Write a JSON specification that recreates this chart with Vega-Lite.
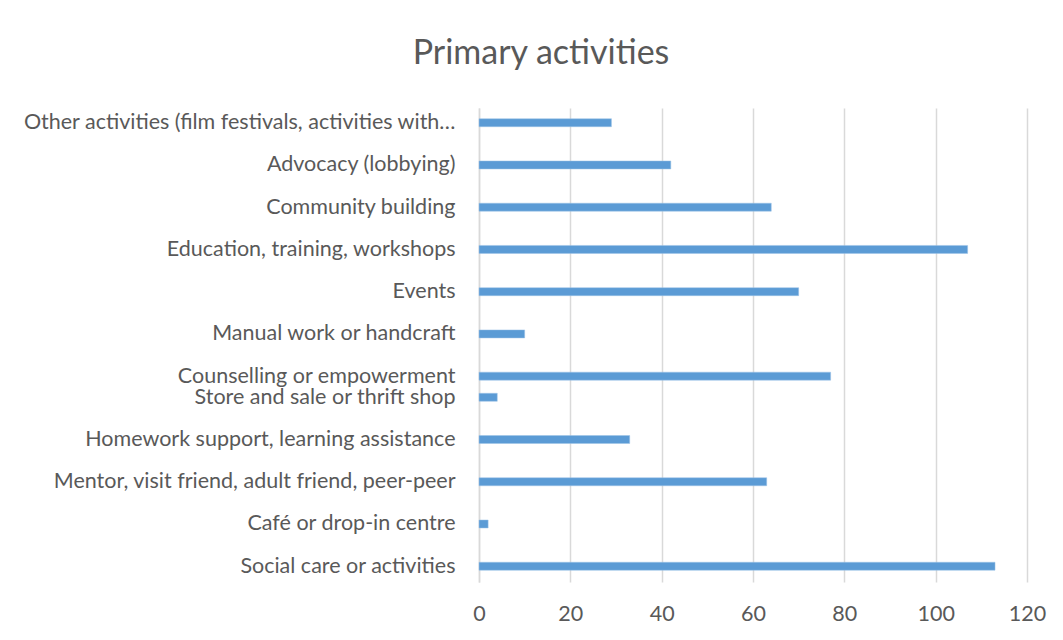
{
  "$schema": "https://vega.github.io/schema/vega-lite/v6.json",
  "width": 548,
  "height": 474,
  "autosize": "none",
  "padding": {"left": 479, "top": 108, "right": 36, "bottom": 58},
  "background": "white",
  "title": {
    "text": "Primary activities",
    "font": "Lato",
    "fontSize": 34,
    "fontWeight": "normal",
    "color": "#595959",
    "anchor": "middle",
    "dx": -212,
    "offset": 37
  },
  "data": {
    "values": [
      {"activity": "Social care or activities", "pos": 0, "value": 113},
      {"activity": "Café or drop-in centre", "pos": 1, "value": 2},
      {"activity": "Mentor, visit friend, adult friend, peer-peer", "pos": 2, "value": 63},
      {"activity": "Homework support, learning assistance", "pos": 3, "value": 33},
      {"activity": "Store and sale or thrift shop", "pos": 4, "value": 4},
      {"activity": "Counselling or empowerment", "pos": 4.5, "value": 77},
      {"activity": "Manual work or handcraft", "pos": 5.5, "value": 10},
      {"activity": "Events", "pos": 6.5, "value": 70},
      {"activity": "Education, training, workshops", "pos": 7.5, "value": 107},
      {"activity": "Community building", "pos": 8.5, "value": 64},
      {"activity": "Advocacy (lobbying)", "pos": 9.5, "value": 42},
      {"activity": "Other activities (film festivals, activities with…", "pos": 10.5, "value": 29}
    ]
  },
  "mark": {"type": "bar", "orient": "horizontal", "size": 8, "color": "#5B9BD5", "stroke": "#9DC3E6", "strokeWidth": 0.5},
  "encoding": {
    "y": {
      "field": "pos",
      "type": "quantitative",
      "scale": {"domain": [-0.255, 10.73], "nice": false, "zero": false},
      "axis": {
        "title": null,
        "values": [0, 1, 2, 3, 4, 4.5, 5.5, 6.5, 7.5, 8.5, 9.5, 10.5],
        "labelExpr": "{'0':'Social care or activities','1':'Café or drop-in centre','2':'Mentor, visit friend, adult friend, peer-peer','3':'Homework support, learning assistance','4':'Store and sale or thrift shop','4.5':'Counselling or empowerment','5.5':'Manual work or handcraft','6.5':'Events','7.5':'Education, training, workshops','8.5':'Community building','9.5':'Advocacy (lobbying)','10.5':'Other activities (film festivals, activities with…'}[''+datum.value]",
        "grid": false,
        "ticks": false,
        "domain": true,
        "domainColor": "#d9d9d9",
        "domainWidth": 1.5,
        "labelFont": "Lato",
        "labelFontSize": 21.5,
        "labelColor": "#595959",
        "labelPadding": 24,
        "labelLimit": 600,
        "labelOverlap": false,
        "labelBound": false
      }
    },
    "x": {
      "field": "value",
      "type": "quantitative",
      "scale": {"domain": [0, 120], "nice": false},
      "axis": {
        "title": null,
        "values": [0, 20, 40, 60, 80, 100, 120],
        "grid": true,
        "gridColor": "#d9d9d9",
        "gridWidth": 1.5,
        "domain": false,
        "ticks": false,
        "labelFont": "Lato",
        "labelFontSize": 21.5,
        "labelColor": "#595959",
        "labelPadding": 21,
        "labelFlush": false
      }
    },
    "x2": {"datum": 0}
  },
  "config": {"view": {"stroke": null}}
}
